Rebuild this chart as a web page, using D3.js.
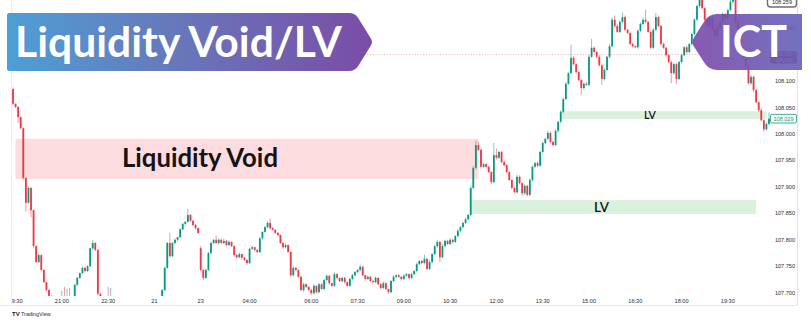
<!DOCTYPE html>
<html>
<head>
<meta charset="utf-8">
<script src="https://cdn.jsdelivr.net/npm/d3@7"></script>
<style>
  body { margin: 0; background: #fff; }
  svg { display: block; font-family: 'Liberation Sans', Arial, sans-serif; }
</style>
</head>
<body>
<script>
// 5-minute USD/JPY style candles
const opens = [
  108.085,108.057,108.051,108.032,108.011,107.917,107.870,107.898,107.856,107.788,
  107.758,107.771,107.743,107.720,107.705,107.694,107.677,107.667,107.675,107.669,
  107.681,107.675,107.684,107.679,107.692,107.715,107.728,107.737,107.747,107.741,
  107.750,107.784,107.794,107.781,107.698,107.677,107.664,107.675,107.669,107.679,
  107.667,107.660,107.664,107.652,107.658,107.648,107.654,107.664,107.656,107.660,
  107.667,107.662,107.671,107.665,107.675,107.669,107.677,107.673,107.682,107.705,
  107.747,107.794,107.769,107.794,107.800,107.805,107.820,107.830,107.834,107.847,
  107.836,107.828,107.822,107.784,107.743,107.728,107.743,107.775,107.794,107.800,
  107.794,107.800,107.794,107.798,107.790,107.796,107.788,107.771,107.767,107.773,
  107.766,107.762,107.756,107.783,107.786,107.781,107.777,107.803,107.815,107.824,
  107.832,107.822,107.819,107.813,107.809,107.794,107.786,107.790,107.777,107.733,
  107.747,107.743,107.730,107.705,107.716,107.711,107.705,107.699,107.713,107.701,
  107.716,107.707,107.724,107.732,107.718,107.713,107.735,107.728,107.722,107.728,
  107.720,107.713,107.726,107.733,107.739,107.743,107.749,107.733,107.726,107.730,
  107.722,107.720,107.728,107.716,107.709,107.718,107.707,107.701,107.722,107.730,
  107.733,107.730,107.726,107.732,107.735,107.728,107.735,107.741,107.754,107.760,
  107.756,107.764,107.745,107.758,107.773,107.788,107.796,107.767,107.788,107.798,
  107.792,107.800,107.796,107.807,107.817,107.824,107.832,107.839,107.847,107.898,
  107.936,107.979,107.970,107.938,107.943,107.938,107.928,107.909,107.960,107.955,
  107.966,107.947,107.941,107.928,107.913,107.898,107.890,107.919,107.907,107.888,
  107.902,107.885,107.913,107.938,107.945,107.940,107.966,107.983,107.991,108.002,
  107.985,107.979,108.006,108.023,108.042,108.066,108.095,108.115,108.144,108.132,
  108.117,108.102,108.087,108.095,108.093,108.146,108.163,108.155,108.146,108.130,
  108.104,108.121,108.146,108.166,108.216,108.204,108.193,108.212,108.221,108.197,
  108.191,108.170,108.166,108.164,108.195,108.208,108.216,108.212,108.193,108.163,
  108.197,108.221,108.204,108.170,108.163,108.149,108.136,108.115,108.132,108.104,
  108.136,108.149,108.164,108.155,108.170,108.189,108.216,108.242,108.263,108.238,
  108.216,108.204,108.219,108.197,108.185,108.202,108.212,108.227,108.219,108.234,
  108.250,108.261,108.212,108.178,108.159,108.144,108.127,108.096,108.108,108.083,
  108.060,108.045,108.026,108.009,108.019
];
const closes = [
  108.057,108.051,108.032,108.011,107.917,107.870,107.898,107.856,107.788,107.758,
  107.771,107.743,107.720,107.705,107.694,107.677,107.667,107.675,107.669,107.681,
  107.675,107.684,107.679,107.692,107.715,107.728,107.737,107.747,107.741,107.750,
  107.784,107.794,107.781,107.698,107.677,107.664,107.675,107.669,107.679,107.667,
  107.660,107.664,107.652,107.658,107.648,107.654,107.664,107.656,107.660,107.667,
  107.662,107.671,107.665,107.675,107.669,107.677,107.673,107.682,107.705,107.747,
  107.794,107.769,107.794,107.800,107.805,107.820,107.830,107.834,107.847,107.836,
  107.828,107.822,107.813,107.743,107.728,107.743,107.775,107.794,107.800,107.794,
  107.800,107.794,107.798,107.790,107.796,107.788,107.771,107.767,107.773,107.766,
  107.762,107.756,107.783,107.786,107.781,107.777,107.803,107.815,107.824,107.832,
  107.822,107.819,107.813,107.809,107.794,107.786,107.790,107.777,107.733,107.747,
  107.743,107.730,107.705,107.716,107.711,107.705,107.699,107.713,107.701,107.716,
  107.707,107.724,107.732,107.718,107.713,107.735,107.728,107.722,107.728,107.720,
  107.713,107.726,107.733,107.739,107.743,107.749,107.733,107.726,107.730,107.722,
  107.720,107.728,107.716,107.709,107.718,107.707,107.701,107.722,107.730,107.733,
  107.730,107.726,107.732,107.735,107.728,107.735,107.741,107.754,107.760,107.756,
  107.764,107.745,107.758,107.773,107.788,107.796,107.767,107.788,107.798,107.792,
  107.800,107.796,107.807,107.817,107.824,107.832,107.839,107.847,107.898,107.936,
  107.979,107.970,107.938,107.943,107.938,107.928,107.909,107.960,107.955,107.966,
  107.947,107.941,107.928,107.913,107.898,107.890,107.919,107.907,107.888,107.902,
  107.885,107.913,107.938,107.945,107.940,107.966,107.983,107.991,108.002,107.985,
  107.979,108.006,108.023,108.042,108.066,108.095,108.115,108.144,108.132,108.117,
  108.102,108.087,108.095,108.093,108.146,108.163,108.155,108.146,108.130,108.104,
  108.121,108.146,108.166,108.216,108.204,108.193,108.212,108.221,108.197,108.191,
  108.170,108.166,108.164,108.195,108.208,108.216,108.212,108.193,108.163,108.197,
  108.221,108.204,108.170,108.163,108.149,108.136,108.115,108.132,108.104,108.136,
  108.149,108.164,108.155,108.170,108.189,108.216,108.242,108.263,108.238,108.216,
  108.204,108.219,108.197,108.185,108.202,108.212,108.227,108.219,108.234,108.250,
  108.261,108.212,108.178,108.159,108.144,108.127,108.096,108.108,108.083,108.060,
  108.045,108.026,108.009,108.019,108.029
];
// wick lengths above / below the body, in pips (0.001)
const upperWick = [
  2,1,2,1,2,1,3,2,1,2, 3,1,2,1,2,1,2,3,1,23, 30,23,25,2,1,2,1,3,2,2, 1,6,2,1,2,1,2,36,30,2,
  2,1,2,2,1,3,2,1,2,2, 1,2,2,1,2,1,2,3,2,2, 2,19,2,3,1,2,2,1,11,2, 1,2,1,4,2,3,2,2,1,8,
  3,2,4,2,3,1,2,2,3,1, 2,1,2,3,1,2,2,1,2,3, 8,2,1,2,1,2,3,1,2,3, 2,1,2,3,2,1,2,3,1,2,
  2,3,2,2,1,3,2,1,2,2, 1,2,3,2,2,4,2,1,3,2, 2,3,1,2,3,2,1,2,3,2, 2,1,3,2,2,3,2,3,2,2,
  8,2,3,2,3,4,2,3,2,2, 3,2,2,3,2,2,3,2,3,3, 9,6,3,2,3,2,2,23,13,3, 2,3,2,2,2,3,4,3,2,3,
  2,3,3,2,3,2,3,2,4,3, 2,3,2,3,3,3,2,25,3,2, 2,3,2,3,4,17,3,2,3,2, 3,2,3,4,8,3,2,8,3,2,
  2,3,2,3,3,4,19,2,3,3, 8,3,2,3,2,2,3,2,3,2, 3,2,3,2,3,3,3,4,3,2, 3,4,2,3,2,3,3,2,3,4,
  4,3,2,3,2,2,3,4,2,3, 2,3,2,3,12
];
const lowerWick = [
  2,2,11,2,3,17,2,13,3,2, 2,3,2,3,2,2,3,2,2,2, 2,2,3,2,2,3,2,2,3,2, 2,3,2,3,2,2,3,2,2,3,
  2,2,3,2,2,3,2,2,3,2, 2,3,2,2,3,2,2,2,3,2, 2,3,2,2,3,2,2,3,2,2, 2,3,2,3,4,2,2,3,2,2,
  3,2,2,3,2,2,3,2,2,3, 2,3,2,2,3,2,2,3,2,2, 3,2,2,3,2,3,2,2,3,2, 3,2,2,3,2,2,3,2,3,2,
  2,3,2,3,2,2,3,2,2,3, 2,2,3,2,2,3,2,3,2,2, 3,2,2,3,2,2,3,2,2,3, 2,3,2,2,3,2,2,3,2,2,
  3,2,2,3,2,3,9,2,3,2, 2,3,2,2,3,2,2,3,2,3, 3,2,3,2,3,2,4,2,3,2, 3,2,3,2,3,2,3,2,4,3,
  3,2,3,2,3,2,3,2,2,3, 3,2,3,2,3,2,2,3,2,3, 2,13,3,2,3,2,2,3,3,11, 3,2,3,2,3,2,2,3,2,3,
  2,3,2,3,2,2,3,2,3,2, 3,2,3,2,3,2,19,3,9,2, 3,2,3,2,3,2,2,3,2,3, 2,3,2,3,2,3,2,3,2,2,
  3,2,3,2,3,3,2,3,3,2, 3,2,4,2,3
];

const timeTickIdx = [1, 19, 37, 55, 73, 92, 116, 134, 152, 170, 188, 206, 224, 242, 260, 278];
const timeTickLabels = ['19:30', '21:00', '22:30', '21', '23', '04:00', '06:00', '07:30',
  '09:00', '10:30', '12:00', '13:30', '15:00', '16:30', '18:00', '19:30'];
// 108.150 sits under the alert badge, so the scale skips it
const priceTicks = [107.70, 107.75, 107.80, 107.85, 107.90, 107.95, 108.00, 108.05, 108.10, 108.20];

// marked zones
const zoneNames = ['Liquidity Void', 'LV', 'LV'];
const zoneStart = [1, 178, 213];
const zoneEnd = [181, 289, 293];
const zoneTop = [107.991, 107.875, 108.043];
const zoneBottom = [107.915, 107.849, 108.028];

const lastPrice = 108.029;
const sessionHigh = 108.259;
const alertLevels = [108.150, 108.146];

// ---- layout ----
const W = 811, H = 322;
const pane = { left: 11.5, right: 797.5, top: 0, bottom: 296, axisBottom: 305.5 };
const zoneLabelX = [122, 594, 644];
const zoneLabelW = [156, 15, 12];
const zoneLabelSize = [26, 13, 9];
const upColor = '#089981', downColor = '#f23645';

const candles = closes.map((c, i) => {
  const o = opens[i];
  return {
    i: i, open: o, close: c,
    high: Math.max(o, c) + upperWick[i] / 1000,
    low: Math.min(o, c) - lowerWick[i] / 1000
  };
});

const xScale = d3.scaleLinear().domain([0, closes.length - 1]).range([13, 769]);
const yScale = d3.scaleLinear().domain([107.7, 108.0]).range([292.7, 134]);
const priceFormat = d3.format('.3f');

const svg = d3.select('body').append('svg')
  .attr('width', W).attr('height', H)
  .attr('viewBox', '0 0 ' + W + ' ' + H);

const defs = svg.append('defs');
defs.append('clipPath').attr('id', 'pane')
  .append('rect')
  .attr('x', pane.left).attr('y', pane.top)
  .attr('width', pane.right - pane.left).attr('height', pane.bottom - pane.top);
defs.append('clipPath').attr('id', 'timeClip')
  .append('rect')
  .attr('x', pane.left + 0.5).attr('y', pane.bottom)
  .attr('width', pane.right - pane.left).attr('height', 10);

const g1 = defs.append('linearGradient').attr('id', 'titleGrad');
g1.append('stop').attr('offset', '0%').attr('stop-color', '#4e9fd6');
g1.append('stop').attr('offset', '45%').attr('stop-color', '#6778bb');
g1.append('stop').attr('offset', '100%').attr('stop-color', '#7b4ca6');
const g2 = defs.append('linearGradient').attr('id', 'ictGrad');
g2.append('stop').attr('offset', '0%').attr('stop-color', '#7a48a8');
g2.append('stop').attr('offset', '100%').attr('stop-color', '#6462b8');

svg.append('rect').attr('width', W).attr('height', H).attr('fill', '#fff');

// frame lines
svg.append('line')
  .attr('x1', pane.left).attr('x2', pane.left)
  .attr('y1', 0).attr('y2', pane.axisBottom)
  .attr('stroke', '#eceef2').attr('stroke-width', 1);
svg.append('line')
  .attr('x1', pane.right).attr('x2', pane.right)
  .attr('y1', 0).attr('y2', pane.axisBottom)
  .attr('stroke', '#dfe1e6').attr('stroke-width', 1);
svg.append('line')
  .attr('x1', 0).attr('x2', pane.right)
  .attr('y1', pane.axisBottom).attr('y2', pane.axisBottom)
  .attr('stroke', '#e6e8ec').attr('stroke-width', 1);

// price scale labels
svg.append('g').selectAll('text')
  .data(priceTicks)
  .enter().append('text')
  .attr('x', 785)
  .attr('y', d => yScale(d))
  .attr('dy', '0.35em')
  .attr('text-anchor', 'middle')
  .attr('font-size', 5.6)
  .attr('fill', '#2a2e39')
  .text(d => priceFormat(d));

// time scale labels
svg.append('g')
  .attr('clip-path', 'url(#timeClip)')
  .selectAll('text')
  .data(timeTickIdx)
  .enter().append('text')
  .attr('x', d => xScale(d))
  .attr('y', 302.5)
  .attr('text-anchor', 'middle')
  .attr('font-size', 5.6)
  .attr('fill', '#2a2e39')
  .text((d, i) => timeTickLabels[i]);

// zones
const zoneFill = ['#fddcdf', '#daf1dd', '#daf1dd'];
svg.append('g').attr('clip-path', 'url(#pane)')
  .selectAll('rect')
  .data(zoneNames)
  .enter().append('rect')
  .attr('x', (d, i) => xScale(zoneStart[i]))
  .attr('width', (d, i) => xScale(zoneEnd[i]) - xScale(zoneStart[i]))
  .attr('y', (d, i) => yScale(zoneTop[i]))
  .attr('height', (d, i) => yScale(zoneBottom[i]) - yScale(zoneTop[i]))
  .attr('fill', (d, i) => zoneFill[i]);

// alert line
svg.append('line')
  .attr('x1', pane.left).attr('x2', pane.right)
  .attr('y1', yScale(alertLevels[0])).attr('y2', yScale(alertLevels[0]))
  .attr('stroke', '#f2a3ab').attr('stroke-width', 0.8)
  .attr('stroke-dasharray', '1.2,1.6');

// candles
const cg = svg.append('g').attr('clip-path', 'url(#pane)');
const colorOf = d => d.close >= d.open ? upColor : downColor;
cg.selectAll('.wick')
  .data(candles)
  .enter().append('line')
  .attr('class', 'wick')
  .attr('x1', d => xScale(d.i)).attr('x2', d => xScale(d.i))
  .attr('y1', d => yScale(d.high)).attr('y2', d => yScale(d.low))
  .attr('stroke', colorOf).attr('stroke-width', 0.7).attr('stroke-opacity', 0.75);
cg.selectAll('.body')
  .data(candles)
  .enter().append('rect')
  .attr('class', 'body')
  .attr('x', d => xScale(d.i) - 0.9)
  .attr('width', 1.8)
  .attr('y', d => yScale(Math.max(d.open, d.close)))
  .attr('height', d => Math.max(0.8, Math.abs(yScale(d.open) - yScale(d.close))))
  .attr('fill', colorOf);

// zone labels
function fitWidth(sel, w) {
  const len = sel.node().getComputedTextLength();
  sel.attr('font-size', parseFloat(sel.attr('font-size')) * w / len);
}
const zoneBase = [167, 212, 118.8];
zoneNames.forEach((name, i) => {
  const t = svg.append('text')
    .attr('x', zoneLabelX[i])
    .attr('y', zoneBase[i])
    .attr('font-family', 'Lato, sans-serif')
    .attr('font-weight', i === 0 ? 700 : 600)
    .attr('font-size', zoneLabelSize[i])
    .attr('fill', '#141414')
    .text(name);
  fitWidth(t, zoneLabelW[i]);
});

// price-scale badges
function badge(y, h, label, fill, stroke, color) {
  const g = svg.append('g');
  g.append('rect')
    .attr('x', 770.5).attr('y', y - h / 2)
    .attr('width', 26).attr('height', h)
    .attr('rx', 1.5)
    .attr('fill', fill).attr('stroke', stroke).attr('stroke-width', 0.8);
  g.append('text')
    .attr('x', 783.5).attr('y', y).attr('dy', '0.35em')
    .attr('text-anchor', 'middle')
    .attr('font-size', h < 7 ? 4.6 : 5.6).attr('fill', color)
    .text(label);
}
badge(yScale(lastPrice), 8.6, priceFormat(lastPrice), '#fff', upColor, upColor);
badge(54.5, 5.6, priceFormat(alertLevels[0]), '#b8344f', '#8e2a40', '#fff');
badge(60.3, 5.6, priceFormat(alertLevels[1]), '#b8344f', '#8e2a40', '#fff');
svg.append('rect')
  .attr('x', 767.5).attr('y', -3).attr('width', 29).attr('height', 10).attr('rx', 3)
  .attr('fill', '#fff').attr('stroke', '#6b6e76').attr('stroke-width', 1.4);
svg.append('text')
  .attr('x', 782).attr('y', 2.3).attr('dy', '0.35em')
  .attr('text-anchor', 'middle').attr('font-size', 5.6).attr('fill', '#2a2e39')
  .text(priceFormat(sessionHigh));

// rounded polygon helper for the banners
function roundedPath(pts, radii) {
  const n = pts.length;
  let d = '';
  pts.forEach((p, i) => {
    const prev = pts[(i - 1 + n) % n], next = pts[(i + 1) % n];
    const r = radii[i];
    const l1 = Math.hypot(prev[0] - p[0], prev[1] - p[1]);
    const l2 = Math.hypot(next[0] - p[0], next[1] - p[1]);
    const a = [p[0] + (prev[0] - p[0]) / l1 * r, p[1] + (prev[1] - p[1]) / l1 * r];
    const b = [p[0] + (next[0] - p[0]) / l2 * r, p[1] + (next[1] - p[1]) / l2 * r];
    d += (i === 0 ? 'M' : 'L') + a[0] + ',' + a[1] + 'Q' + p[0] + ',' + p[1] + ' ' + b[0] + ',' + b[1];
  });
  return d + 'Z';
}

// title banner
svg.append('path')
  .attr('d', roundedPath([[7, 13], [355, 13], [373, 42], [355, 71], [7, 71]], [2, 6, 4, 6, 2]))
  .attr('fill', 'url(#titleGrad)');
const title = svg.append('text')
  .attr('x', 15).attr('y', 57)
  .attr('font-family', 'Lato, sans-serif').attr('font-weight', 700)
  .attr('font-size', 43).attr('fill', '#fff')
  .text('Liquidity Void/LV');
fitWidth(title, 327);

// ICT banner
svg.append('path')
  .attr('d', roundedPath([[709, 14], [802, 14], [802, 70], [709, 70], [691, 42]], [8, 0, 0, 8, 6]))
  .attr('fill', 'url(#ictGrad)')
  .attr('fill-opacity', 0.9);
const ict = svg.append('text')
  .attr('x', 720).attr('y', 57)
  .attr('font-family', 'Lato, sans-serif').attr('font-weight', 700)
  .attr('font-size', 44).attr('fill', '#fff')
  .text('ICT');
fitWidth(ict, 67);

// footer logo
svg.append('text')
  .attr('x', 12).attr('y', 315.5)
  .attr('font-size', 6).attr('font-weight', 900).attr('fill', '#131722')
  .text('TV');
svg.append('text')
  .attr('x', 21).attr('y', 315.5)
  .attr('font-size', 5.4).attr('fill', '#2a2e39')
  .text('TradingView');
</script>
</body>
</html>
